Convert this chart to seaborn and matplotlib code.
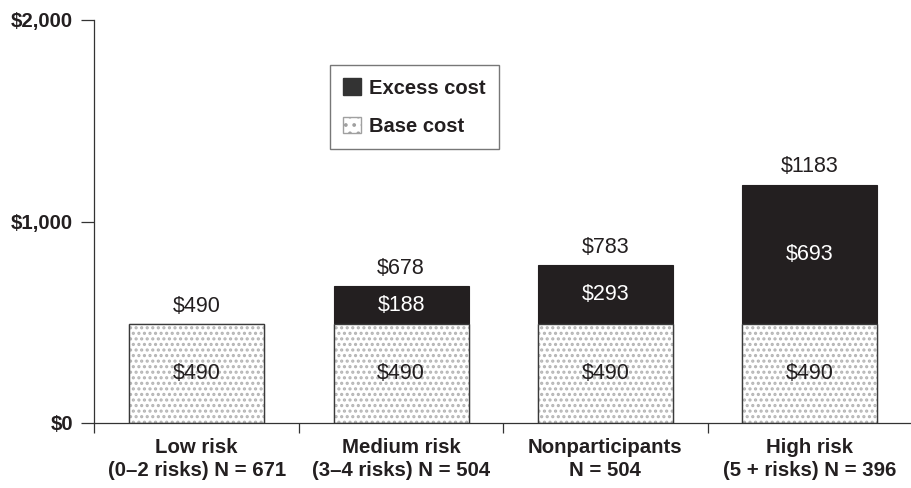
import matplotlib
matplotlib.use("Agg")
import matplotlib.pyplot as plt
import seaborn as sns
import pandas as pd
from matplotlib.patches import Patch

categories = ["Low risk\n(0–2 risks) N = 671",
              "Medium risk\n(3–4 risks) N = 504",
              "Nonparticipants\nN = 504",
              "High risk\n(5 + risks) N = 396"]
base_cost = [490, 490, 490, 490]
excess_cost = [0, 188, 293, 693]
total_cost = [490, 678, 783, 1183]
y_ticks = [0, 1000, 2000]
y_tick_labels = ["$0", "$1,000", "$2,000"]

sns.set_theme(style="white")
plt.rcParams["font.family"] = ["Liberation Sans", "DejaVu Sans"]
plt.rcParams["hatch.linewidth"] = 1.5

DARK = "#231f20"
AXC = "#333333"

df = pd.DataFrame({"cat": categories, "total": total_cost,
                   "base": base_cost, "excess": excess_cost})

fig = plt.figure(figsize=(9.12, 4.88), dpi=100)
ax = fig.add_axes([94.5 / 912, 65 / 488, (912 - 94.5) / 912, 403 / 488])

W = 0.66
sns.barplot(data=df, x="cat", y="total", color=DARK, saturation=1, width=W,
            edgecolor=DARK, linewidth=0.8, ax=ax)
sns.barplot(data=df, x="cat", y="base", color="white", saturation=1, width=W,
            edgecolor="#b4b4b4", linewidth=0, hatch="...", ax=ax)
sns.barplot(data=df, x="cat", y="base", color="#3a3a3a", saturation=1, width=W,
            fill=False, linewidth=1.0, ax=ax)

fs_val = 15.5
for i in range(len(categories)):
    ax.annotate(f"${total_cost[i]}", (i, total_cost[i]), xytext=(0, 13),
                textcoords="offset points", ha="center", va="center",
                fontsize=fs_val, color=DARK)
    if excess_cost[i] > 0:
        ax.text(i, base_cost[i] + excess_cost[i] / 2, f"${excess_cost[i]}",
                ha="center", va="center", fontsize=fs_val, color="white")
    ax.text(i, base_cost[i] / 2, f"${base_cost[i]}", ha="center", va="center",
            fontsize=fs_val, color=DARK)

ax.set_ylim(0, 2000)
ax.set_xlim(-0.5, 3.456)
ax.set_yticks(y_ticks, y_tick_labels)
ax.set_xticks(range(len(categories)), categories)
ax.set_xticks([-0.5, 0.5, 1.5, 2.5, 3.5], minor=True)
ax.set_xlabel("")
ax.set_ylabel("")

ax.tick_params(axis="y", which="major", left=True, length=9.5, width=0.9,
               color=AXC, pad=6, labelsize=14.7, labelcolor=DARK)
ax.tick_params(axis="x", which="major", bottom=True, length=0, pad=10.5,
               labelsize=14.7, labelcolor=DARK)
ax.tick_params(axis="x", which="minor", bottom=True, length=7.5, width=0.9,
               color=AXC, direction="out")
for lab in ax.get_xticklabels() + ax.get_yticklabels():
    lab.set_fontweight("bold")
for lab in ax.get_xticklabels():
    lab.set_linespacing(1.3)

for s in ["top", "right"]:
    ax.spines[s].set_visible(False)
for s in ["left", "bottom"]:
    ax.spines[s].set_color(AXC)
    ax.spines[s].set_linewidth(0.9)

handles = [Patch(facecolor="#333333", edgecolor="#333333", label="Excess cost"),
           Patch(facecolor="white", edgecolor="#a0a0a0", hatch="..", label="Base cost")]
leg = ax.legend(handles=handles, loc="upper left", bbox_to_anchor=(0.288, 0.888),
                borderaxespad=0, frameon=True, fancybox=False,
                prop={"size": 14.5, "weight": "bold"},
                handlelength=0.9, handleheight=0.9, handletextpad=0.4,
                labelspacing=0.95, borderpad=0.65)
leg.get_frame().set_edgecolor("#555555")
leg.get_frame().set_linewidth(1.0)
for t in leg.get_texts():
    t.set_color(DARK)

fig.savefig("out.png", dpi=100)
